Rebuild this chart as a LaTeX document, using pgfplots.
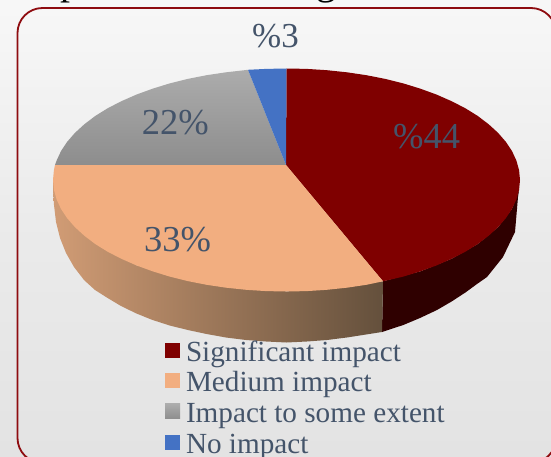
\documentclass[border=0pt]{standalone}
\usepackage{fontspec}
\setmainfont{Liberation Serif}
\usepackage{pgfplots}
\pgfplotsset{compat=1.18}
\definecolor{txt}{HTML}{44546A}
\definecolor{redtop}{HTML}{7F0000}
\definecolor{redside}{HTML}{2F0000}
\definecolor{peach}{HTML}{F2AE80}
\definecolor{peachL}{HTML}{D19C75}
\definecolor{peachR}{HTML}{64503C}
\definecolor{grayT}{HTML}{ACACAC}
\definecolor{grayB}{HTML}{8D8D8D}
\definecolor{blueS}{HTML}{4472C4}
\definecolor{borderc}{HTML}{8E0C10}
\begin{document}
\begin{tikzpicture}
\useasboundingbox (0,0) rectangle (551pt,457pt);
\clip (0,0) rectangle (551pt,457pt);
\shade[top color=black!3, bottom color=black!11, middle color=black!8] (0,0) rectangle (551pt,457pt);
\begin{axis}[
  at={(0,0)},anchor=south west,
  width=551pt,height=457pt,scale only axis,
  xmin=0,xmax=551,ymin=0,ymax=457,y dir=reverse,
  axis lines=none,clip=false,no markers,
  legend cell align=left,
  legend style={at={(axis cs:165,340)},anchor=north west,draw=none,fill=none,
    inner sep=0pt,outer sep=0pt,row sep=2.7pt,
    font=\fontsize{29.2pt}{30pt}\selectfont,text=txt,
    nodes={inner sep=0pt,outer sep=0pt,text height=21pt,text depth=7pt}},
  legend image code/.code={\path[draw=none,#1] (0pt,-3.5pt) rectangle (15pt,11.5pt);},
]
% side walls
\addplot[fill=redside,draw=none,forget plot] coordinates {
(383,281.3)(420.4,271.3)(451.6,258.8)(477.8,244.0)(498.1,227.1)(512.0,208.9)(519.1,189.7)
(518,197)(515,232)(503,257)(487,277)(477,284)(465.4,292.5)(451.6,301.5)(437,310)(420,318)(403.3,325)(382,332)
} --cycle;
\addplot[left color=peachL,right color=peachR,draw=none,forget plot] coordinates {
(383,281.3)(286.5,291.5)(136.4,265.4)(53,180)
(53,190)(54,205)(56,222)(60,238)(66,253)(74,267)(84,280)(95,290)(107.6,298)(121,306)(136.4,313.5)(152.6,320)(169.7,325.5)(187.8,330)(206.6,334)(226,337.5)(246,340)(266,341.5)(286.5,342.5)(306.9,341.5)(327,340)(346.9,337.5)(382,332)
} --cycle;
% top surface
\addplot[fill=redtop,draw=none,forget plot] coordinates {
(286,165)(286.5,68.5)(306.9,68.9)(327.0,70.2)(346.9,72.3)(366.4,75.2)(385.2,78.9)(403.3,83.4)(420.4,88.7)(436.6,94.6)(451.6,101.2)(465.4,108.3)(477.8,116.0)(488.7,124.3)(498.1,132.9)(505.9,141.9)(512.0,151.1)(516.4,160.6)(519.1,170.3)(520,180)(519.1,189.7)(516.4,199.4)(512.0,208.9)(505.9,218.1)(498.1,227.1)(488.7,235.7)(477.8,244.0)(465.4,251.7)(451.6,258.8)(436.6,265.4)(420.4,271.3)(403.3,276.6)(383,281.3)
} --cycle;
\addplot[fill=peach,draw=none,forget plot] coordinates {
(286,165)(383,281.3)(366.4,284.8)(346.9,287.7)(327.0,289.8)(306.9,291.1)(286.5,291.5)(266.1,291.1)(246.0,289.8)(226.1,287.7)(206.6,284.8)(187.8,281.1)(169.7,276.6)(152.6,271.3)(136.4,265.4)(121.4,258.8)(107.6,251.7)(95.2,244.0)(84.3,235.7)(74.9,227.1)(67.1,218.1)(61.0,208.9)(56.6,199.4)(53.9,189.7)(53,180)(53.9,170.3)(55,165)
} --cycle;
\addplot[top color=grayT,bottom color=grayB,draw=none,forget plot] coordinates {
(286,165)(55,165)(56.6,160.6)(61.0,151.1)(67.1,141.9)(74.9,132.9)(84.3,124.3)(95.2,116.0)(107.6,108.3)(121.4,101.2)(136.4,94.6)(152.6,88.7)(169.7,83.4)(187.8,78.9)(206.6,75.2)(226.1,72.3)(248,69.8)
} --cycle;
\addplot[fill=blueS,draw=none,forget plot] coordinates {
(286,165)(248,69.8)(266.1,68.9)(286.5,68.5)
} --cycle;
% data labels
\node[anchor=base west,inner sep=0pt,text=txt,font=\fontsize{36.5pt}{38pt}\selectfont] at (axis cs:393,149) {\%44};
\node[anchor=base west,inner sep=0pt,text=txt,font=\fontsize{36.5pt}{38pt}\selectfont] at (axis cs:144,251.7) {33\%};
\node[anchor=base west,inner sep=0pt,text=txt,font=\fontsize{36.5pt}{38pt}\selectfont] at (axis cs:141.7,135) {22\%};
\node[anchor=base west,inner sep=0pt,text=txt,font=\fontsize{35pt}{37pt}\selectfont] at (axis cs:252,48) {\%3};
% legend
\addlegendimage{fill=redtop}
\addlegendentry{\hspace{6pt}Significant impact}
\addlegendimage{fill=peach}
\addlegendentry{\hspace{6pt}Medium impact}
\addlegendimage{top color=grayT,bottom color=grayB}
\addlegendentry{\hspace{6pt}Impact to some extent}
\addlegendimage{fill=blueS}
\addlegendentry{\hspace{6pt}No impact}
% frame and cut-off heading
\draw[borderc,line width=1.8pt,rounded corners=25pt] (axis cs:17.5,8) rectangle (axis cs:556,463);
\node[anchor=base west,inner sep=0pt,text=black,font=\fontsize{40pt}{42pt}\selectfont] at (axis cs:60,-5) {p};
\node[anchor=base west,inner sep=0pt,text=black,font=\fontsize{40pt}{42pt}\selectfont] at (axis cs:316,-5) {g};
\end{axis}
\end{tikzpicture}
\end{document}
